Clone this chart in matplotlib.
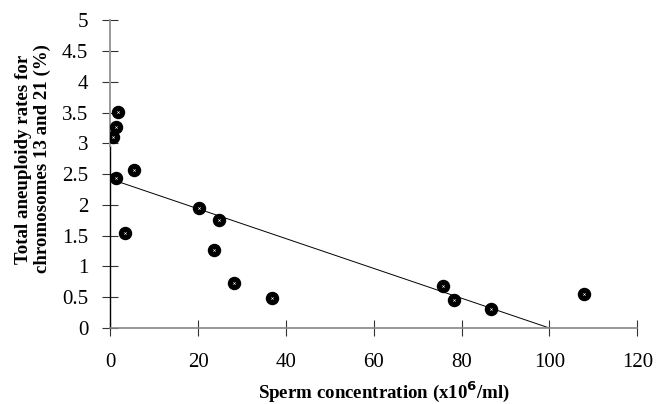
import numpy as np
import matplotlib.pyplot as plt

# sperm concentration (x10^6/ml) vs total aneuploidy (%)
conc = [0.5, 1.3, 1.7, 1.3, 5.4, 3.4, 20.1, 24.7, 23.5, 28.2, 36.8, 75.8, 78.3, 86.7, 107.8]
aneu = [3.10, 3.26, 3.51, 2.43, 2.56, 1.54, 1.95, 1.76, 1.27, 0.73, 0.49, 0.69, 0.46, 0.31, 0.56]

# regression line
trend_x = [1.0, 103.0]
intercept, slope = 2.42, -0.0242

xticks = [0, 20, 40, 60, 80, 100, 120]
yticks = [0, 0.5, 1, 1.5, 2, 2.5, 3, 3.5, 4, 4.5, 5]
ytick_labels = ['0', '0.5', '1', '1.5', '2', '2.5', '3', '3.5', '4', '4.5', '5']

plt.rcParams['font.family'] = ['Liberation Serif', 'DejaVu Serif']

fig = plt.figure(figsize=(6.56, 4.04), dpi=100)
ax = fig.add_axes([0.1684, 0.188, 0.803, 0.762])

tx = np.array(trend_x)
ax.plot(tx, intercept + slope * tx, color='black', lw=0.7, zorder=2)
ax.scatter(conc, aneu, s=75, color='black', zorder=3)
ax.scatter(conc, aneu, s=3, marker='x', color='white', linewidths=0.4, zorder=4)

ax.set_xlim(0, 120)
ax.set_ylim(0, 5)
ax.set_xticks(xticks)
ax.set_yticks(yticks)
ax.set_yticklabels(ytick_labels)
ax.tick_params(axis='both', direction='inout', length=12, width=0.8,
               labelsize=15, colors='#333333', labelcolor='black')
ax.tick_params(axis='x', pad=12)
ax.tick_params(axis='y', pad=10)

for s in ['top', 'right', 'left']:
    ax.spines[s].set_visible(False)
ax.spines['bottom'].set_linestyle((0, (1, 1)))
ax.spines['bottom'].set_color('#888888')
ax.spines['bottom'].set_linewidth(1.2)
ax.axvline(0, ymin=0, ymax=0.59, color='black', lw=1.0, clip_on=False)
ax.axvline(0, ymin=0.59, ymax=1, color='#999999', lw=1.4, clip_on=False)

ax.set_xlabel('Sperm concentration (x10$^{\\mathbf{6}}$/ml)', fontsize=13.6,
              fontweight='bold')
ax.set_ylabel('Total aneuploidy rates for\nchromosomes 13 and 21 (%)',
              fontsize=13.6, fontweight='bold', linespacing=1.15)
ax.xaxis.set_label_coords(0.519, -0.168)
ax.yaxis.set_label_coords(-0.112, 0.549)

fig.savefig('out.png', dpi=100)
